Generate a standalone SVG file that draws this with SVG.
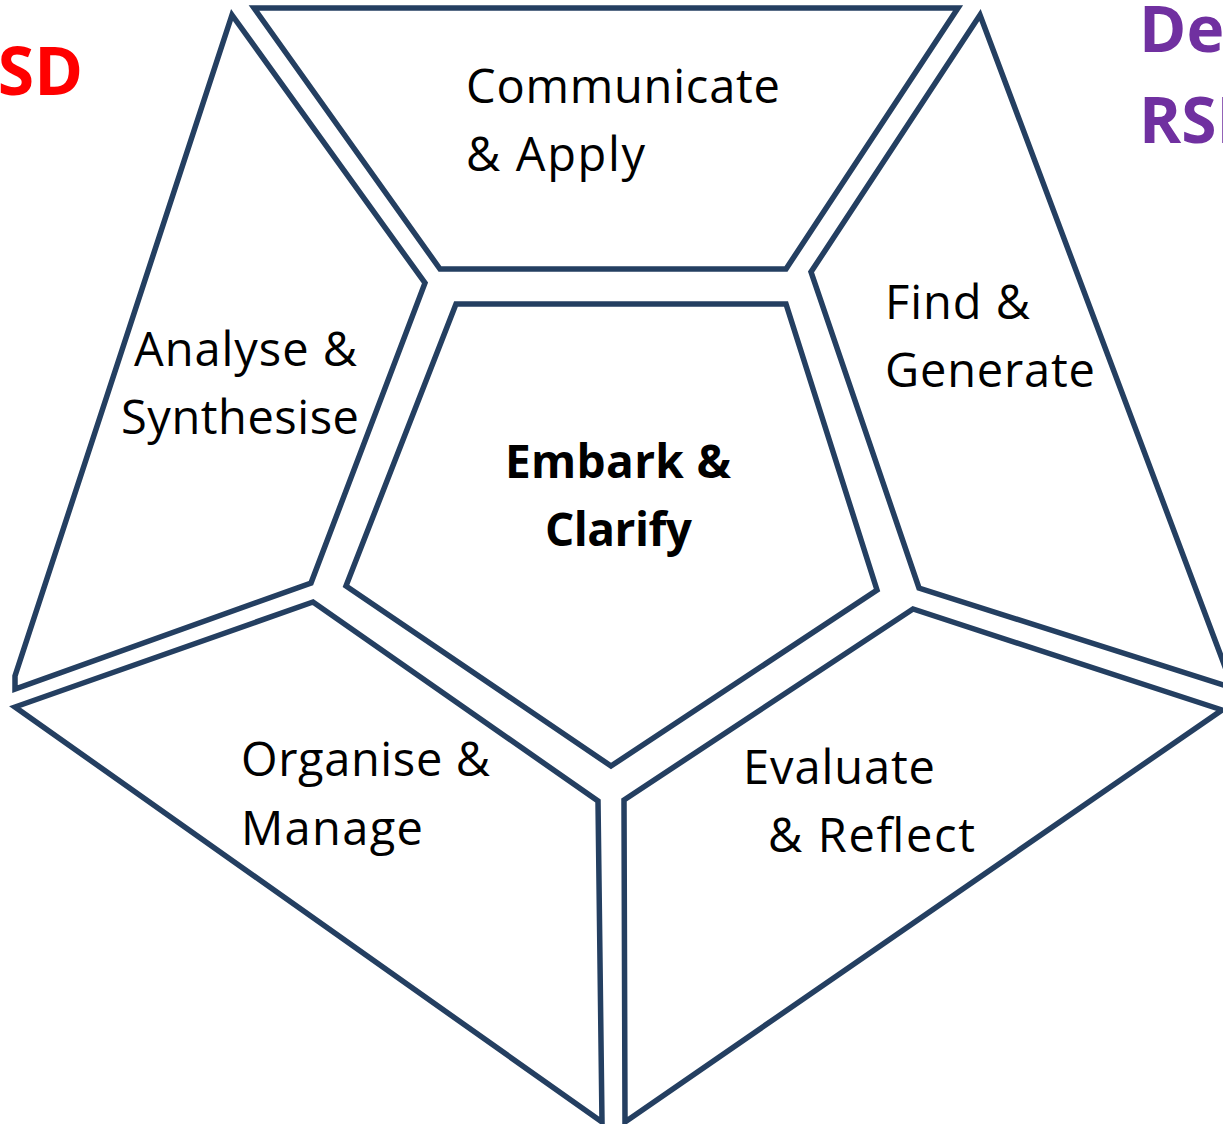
<svg xmlns="http://www.w3.org/2000/svg" width="1223" height="1124" viewBox="0 0 1223 1124">
<style>
.seg{fill:#ffffff;stroke:#243f61;stroke-width:5.5;stroke-linejoin:miter}
.t{font-family:"Open Sans","Liberation Sans",sans-serif;font-size:47px;fill:#000000}
.b{font-family:"Open Sans","Liberation Sans",sans-serif;font-size:46px;font-weight:bold;fill:#000000}
.red{font-family:"Open Sans","Liberation Sans",sans-serif;font-size:66px;font-weight:bold;fill:#ff0000}
.pur{font-family:"Open Sans","Liberation Sans",sans-serif;font-size:64px;font-weight:bold;fill:#7030a0}
</style>
<rect width="1223" height="1124" fill="#ffffff"/>
<g id="title-left"><text class="red" x="83" y="95" text-anchor="end">RSD</text></g>
<g id="title-right"><text class="pur" x="1139" y="52">Dev</text><text class="pur" x="1139" y="143">RSD</text></g>
<g id="connectors"></g>
<g id="node-communicate">
<polygon class="seg" points="254,8 958,8 786,269 440,269"/>
<text class="t" x="466" y="103" textLength="314">Communicate</text>
<text class="t" x="466" y="171" textLength="179">&amp; Apply</text>
</g>
<g id="node-find">
<polygon class="seg" points="980,15 1233,688 919,588 811,272"/>
<text class="t" x="885" y="319" textLength="145">Find &amp;</text>
<text class="t" x="885" y="387" textLength="210">Generate</text>
</g>
<g id="node-analyse">
<polygon class="seg" points="232,15 425,283 311,583 15,689 15,676"/>
<text class="t" x="134" y="366" textLength="223">Analyse &amp;</text>
<text class="t" x="121" y="434" textLength="238">Synthesise</text>
</g>
<g id="node-organise">
<polygon class="seg" points="15,707 313,602 598,801 602,1122"/>
<text class="t" x="241" y="776" textLength="249">Organise &amp;</text>
<text class="t" x="241" y="845" textLength="182">Manage</text>
</g>
<g id="node-evaluate">
<polygon class="seg" points="624,800 913,609 1222,710 625,1122"/>
<text class="t" x="743" y="784" textLength="192">Evaluate</text>
<text class="t" x="768" y="852" textLength="207">&amp; Reflect</text>
</g>
<g id="node-embark">
<polygon class="seg" points="456,304 786,304 877,590 611,766 346,586"/>
<text class="b" x="505" y="478" textLength="226">Embark &amp;</text>
<text class="b" x="545" y="546" textLength="147">Clarify</text>
</g>
</svg>
